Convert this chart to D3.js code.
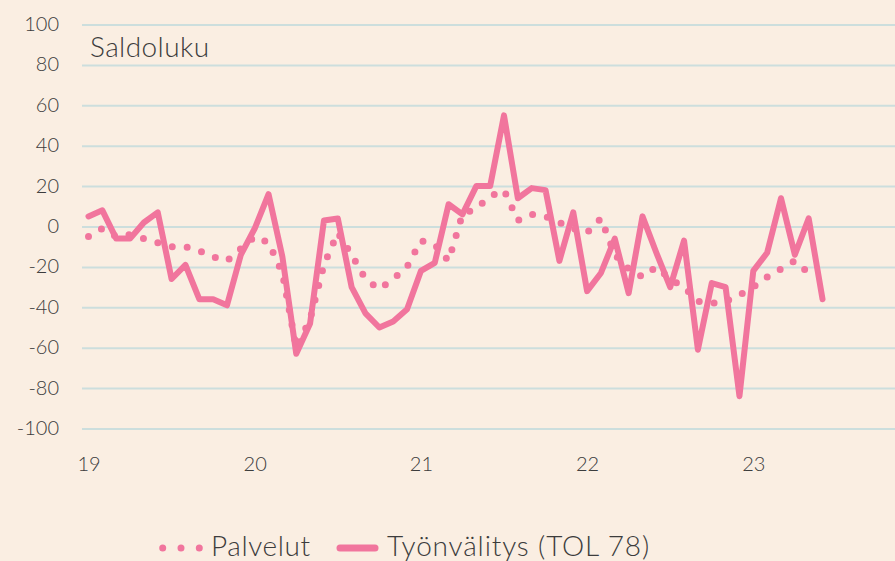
<!DOCTYPE html>
<html>
<head>
<meta charset="utf-8">
<script src="https://cdn.jsdelivr.net/npm/d3@7"></script>
<style>
  html, body { margin: 0; padding: 0; background: #FAEEE2; }
  svg { display: block; font-family: Lato, "Open Sans", sans-serif; font-weight: 300; }
</style>
</head>
<body>
<svg id="chart" width="895" height="561"></svg>
<script>
// monthly balance figures, Jan 2019 onwards
var palvelut = [
  -5, -1, -5, -4, -6, -8, -10, -10, -12, -15, -17, -11,
  -5, -8, -23, -60, -46, -19, -3, -14, -26, -31, -26, -20,
  -7, -9, -17, 6, 9, 15, 18, 3, 6, 5, 2, -1,
  -3, 4, -14, -21, -25, -20, -26, -30, -37, -38, -37, -34,
  -30, -25, -21, -17, -23
];
var tyonvalitys = [
  5, 8, -6, -6, 2, 7, -26, -19, -36, -36, -39, -14,
  -1, 16, -15, -63, -48, 3, 4, -30, -43, -50, -47, -41,
  -22, -18, 11, 6, 20, 20, 55, 14, 19, 18, -17, 7,
  -32, -23, -6, -33, 5, -13, -30, -7, -61, -28, -30, -84,
  -22, -13, 14, -14, 4, -36
];
var yearLabels = ["19", "20", "21", "22", "23"];
var yearTicks = [0, 12, 24, 36, 48];
var yTicks = [-100, -80, -60, -40, -20, 0, 20, 40, 60, 80, 100];

var pink = "#F1759D";
var textColor = "#3c3c3c";

var svg = d3.select("#chart");

var x = d3.scaleLinear().domain([0, 60]).range([88.5, 919.5]);
var y = d3.scaleLinear().domain([-100, 100]).range([428.5, 24.5]);

// y axis + grid
var yAxis = svg.append("g")
  .attr("transform", "translate(82,0)")
  .call(d3.axisLeft(y).tickValues(yTicks)
    .tickFormat(function (d) { return String(d); })
    .tickSize(-813).tickPadding(23));
yAxis.select(".domain").remove();
yAxis.selectAll("line").attr("stroke", "#CCDEDD").attr("stroke-width", 2);
yAxis.selectAll("text")
  .attr("fill", textColor)
  .attr("font-size", 20)
  .attr("font-family", "Lato")
  .attr("font-weight", 300)
  .attr("dy", "0.3em");

// x axis
var xAxis = svg.append("g")
  .attr("transform", "translate(0,428.5)")
  .call(d3.axisBottom(x).tickValues(yearTicks)
    .tickFormat(function (d, i) { return yearLabels[i]; })
    .tickSize(0).tickPadding(28));
xAxis.select(".domain").remove();
xAxis.selectAll("text")
  .attr("fill", textColor)
  .attr("font-size", 20)
  .attr("font-family", "Lato")
  .attr("font-weight", 300);

svg.append("text")
  .attr("x", 90)
  .attr("y", 57)
  .attr("fill", textColor)
  .attr("font-size", 28)
  .attr("letter-spacing", 0.4)
  .text("Saldoluku");

var line = d3.line()
  .x(function (d, i) { return x(i); })
  .y(function (d) { return y(d); });

svg.append("path")
  .datum(tyonvalitys)
  .attr("d", line)
  .attr("fill", "none")
  .attr("stroke", pink)
  .attr("stroke-width", 6)
  .attr("stroke-linejoin", "round")
  .attr("stroke-linecap", "round");

svg.append("path")
  .datum(palvelut)
  .attr("d", line)
  .attr("fill", "none")
  .attr("stroke", pink)
  .attr("stroke-width", 7)
  .attr("stroke-linecap", "round")
  .attr("stroke-dasharray", "0 15");

// legend
var legend = svg.append("g");
legend.append("line")
  .attr("x1", 162.7).attr("x2", 200).attr("y1", 548).attr("y2", 548)
  .attr("stroke", pink)
  .attr("stroke-width", 7)
  .attr("stroke-linecap", "round")
  .attr("stroke-dasharray", "0 18.3");
legend.append("text")
  .attr("x", 211).attr("y", 556)
  .attr("fill", textColor)
  .attr("font-size", 28)
  .attr("letter-spacing", 0.6)
  .text("Palvelut");
legend.append("line")
  .attr("x1", 340).attr("x2", 375).attr("y1", 548).attr("y2", 548)
  .attr("stroke", pink)
  .attr("stroke-width", 7)
  .attr("stroke-linecap", "round");
legend.append("text")
  .attr("x", 387).attr("y", 556)
  .attr("fill", textColor)
  .attr("font-size", 28)
  .attr("letter-spacing", 0.85)
  .text("Työnvälitys (TOL 78)");
</script>
</body>
</html>
